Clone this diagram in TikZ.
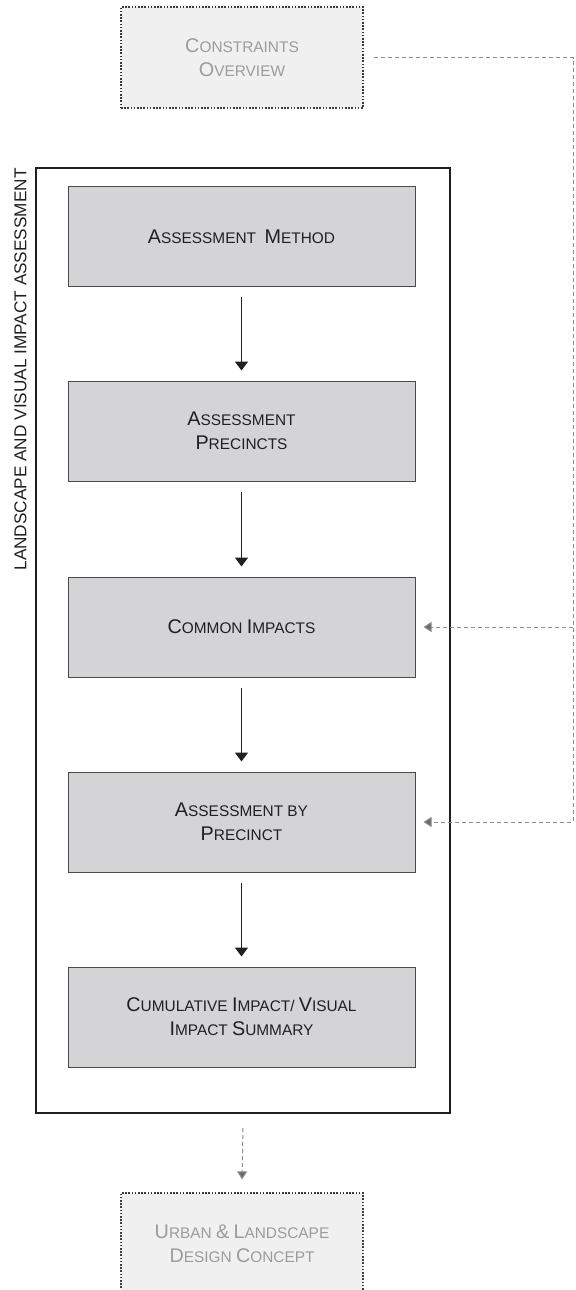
\documentclass[tikz,border=0pt]{standalone}
\usepackage{fontspec}
\setmainfont{Liberation Sans}
\usepackage{tikz}
\usetikzlibrary{arrows.meta,positioning,calc}
\usepackage{xcolor}

\definecolor{boxgray}{HTML}{D4D4D6}
\definecolor{boxline}{HTML}{4A4A4A}
\definecolor{inktext}{HTML}{231F20}
\definecolor{ghostfill}{HTML}{F0F0F0}
\definecolor{ghosttext}{HTML}{9C9C9C}
\definecolor{ghostline}{HTML}{3A3A3A}
\definecolor{feedgray}{HTML}{8C8C8C}
\definecolor{tipgray}{HTML}{6A6A6A}

% large initial for the faked small caps
\newcommand{\initc}[1]{{\fontsize{9.9pt}{12pt}\selectfont #1}}

\begin{document}
\begin{tikzpicture}[
    x=0.5pt, y=-0.5pt,
    stage/.style={draw=boxline, line width=0.5pt, fill=boxgray, rectangle,
        minimum width=173.5pt, minimum height=50pt, align=center,
        text=inktext, font=\fontsize{7.7pt}{12pt}\selectfont},
    ghost/.style={draw=ghostline, line width=0.6pt, dash pattern=on 0.8pt off 0.8pt,
        fill=ghostfill, rectangle, minimum width=121pt, minimum height=50.5pt,
        align=center, text=ghosttext, font=\fontsize{7.7pt}{12pt}\selectfont},
    framebox/.style={draw=inktext, line width=1pt, rectangle,
        minimum width=207pt, minimum height=472.5pt, inner sep=0pt},
    flow/.style={-{Triangle[length=4.5pt, width=6.5pt]}, draw=inktext, line width=0.8pt,
        shorten <=5pt, shorten >=5pt},
    feed/.style={-{Triangle[length=4pt, width=5pt, fill=tipgray]}, draw=feedgray,
        line width=0.5pt, dash pattern=on 2pt off 1.5pt},
]
\useasboundingbox (0,0) rectangle (576,1290);

\node[ghost] (constr) at (242,57.5) {\initc{C}ONSTRAINTS\\\initc{O}VERVIEW};

\node[framebox] (frame) at (243,640.5) {};
\node[rotate=90, anchor=east, inner sep=0pt, text=inktext,
    font=\fontsize{8.6pt}{10pt}\selectfont] (lvia) at (20.5,168)
    {LANDSCAPE AND VISUAL IMPACT ASSESSMENT};

\node[stage] (method) at (241.5,236.5) {\initc{A}SSESSMENT \ \initc{M}ETHOD};
\node[stage] (precincts) at (241.5,431) {\initc{A}SSESSMENT\\\initc{P}RECINCTS};
\node[stage] (common) at (241.5,627) {\initc{C}OMMON \initc{I}MPACTS};
\node[stage] (byprec) at (241.5,822) {\initc{A}SSESSMENT BY\\\initc{P}RECINCT};
\node[stage] (cumul) at (241.5,1017) {\initc{C}UMULATIVE \initc{I}MPACT/ \initc{V}ISUAL\\\initc{I}MPACT \initc{S}UMMARY};

\node[ghost] (urban) at (242,1243.5) {\initc{U}RBAN \initc{\&} \initc{L}ANDSCAPE\\\initc{D}ESIGN \initc{C}ONCEPT};

\coordinate (rail) at (573,0);

\draw[flow] (method) -- (precincts);
\draw[flow] (precincts) -- (common);
\draw[flow] (common) -- (byprec);
\draw[flow] (byprec) -- (cumul);

\draw[feed] ([xshift=5pt]constr.east) -| (byprec.east -| rail) -- ([xshift=4pt]byprec.east);
\draw[feed] (common.east -| rail) -- ([xshift=4pt]common.east);
\draw[feed] ([yshift=-7pt]frame.south) -- ([yshift=6.5pt]urban.north);

\end{tikzpicture}
\end{document}
